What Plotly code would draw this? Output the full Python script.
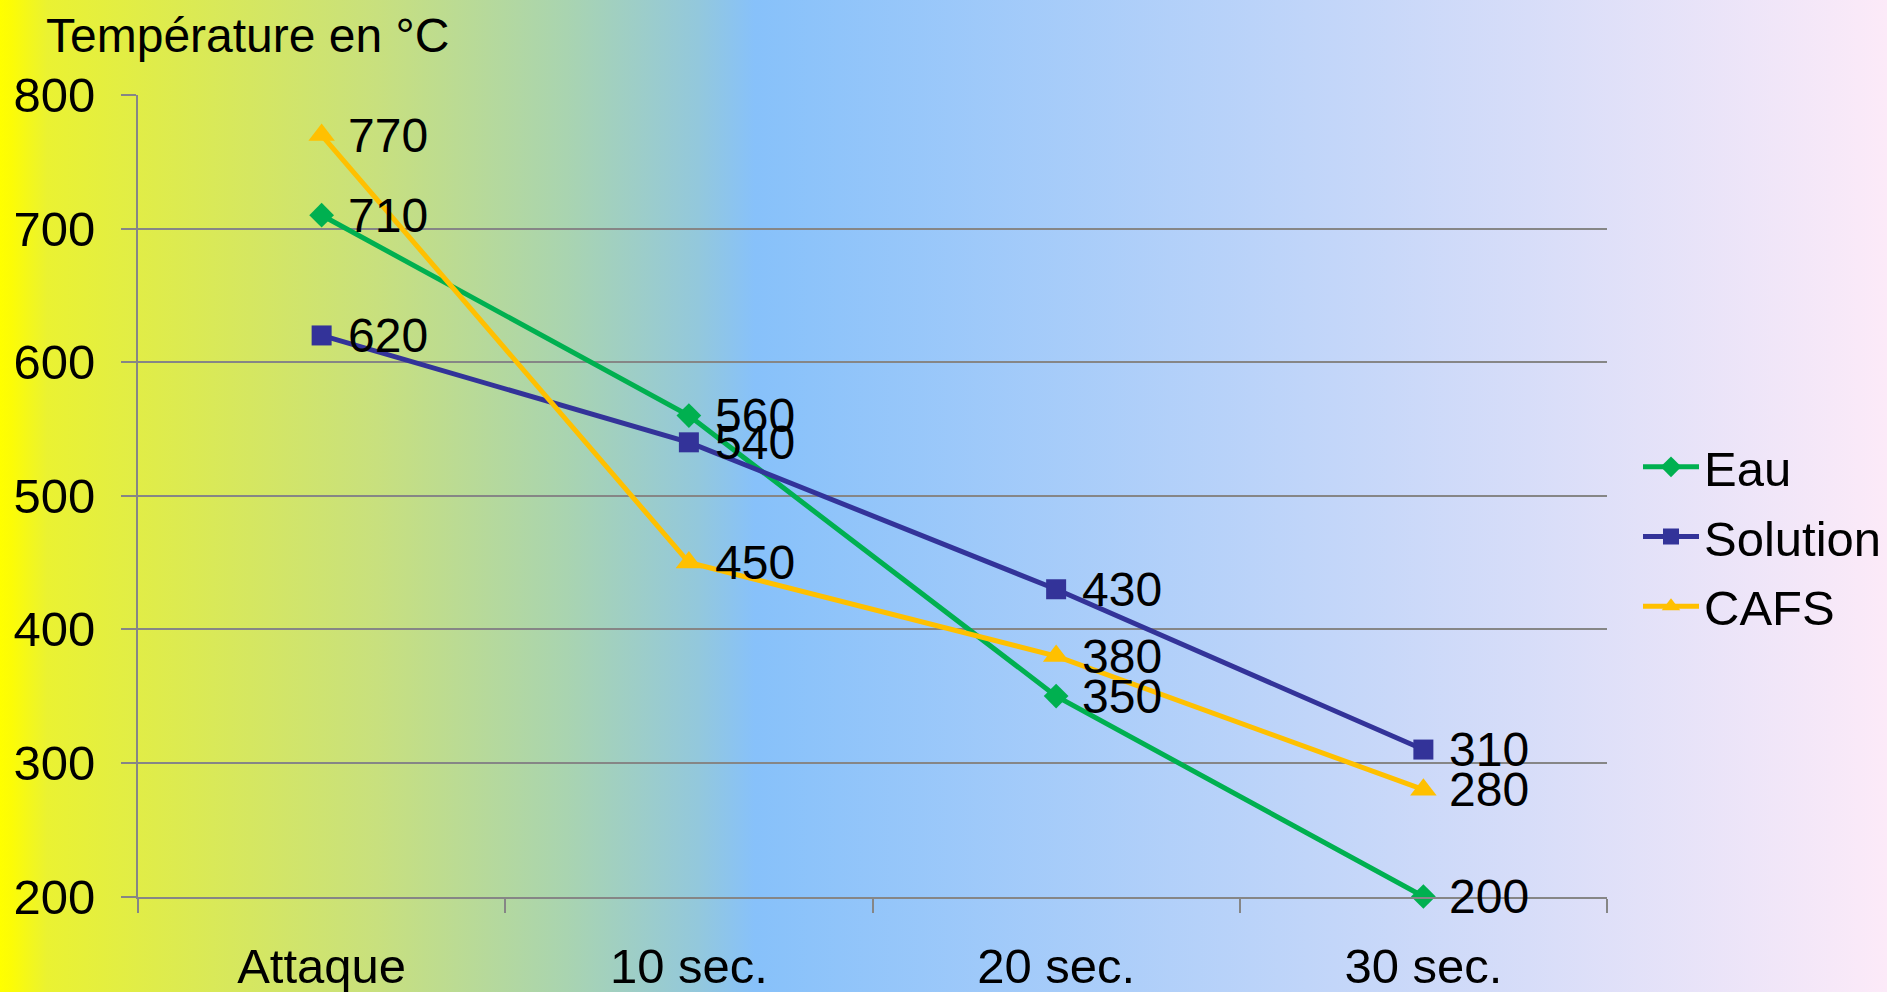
import base64
import plotly.graph_objects as go

# Temps et températures relevées (°C)
categories = ["Attaque", "10 sec.", "20 sec.", "30 sec."]
eau = [710, 560, 350, 200]
solution = [620, 540, 430, 310]
cafs = [770, 450, 380, 280]
y_ticks = [200, 300, 400, 500, 600, 700, 800]

W, H = 1887, 992
FONT = "Liberation Sans, Arial, sans-serif"
GRID = "#868686"

# Horizontal background gradient (yellow -> sky blue -> light pink)
stops = [
    (0.000, "#FFFF00"),
    (0.006, "#FCFC06"),
    (0.025, "#EAF232"),
    (0.200, "#C8E07E"),
    (0.300, "#A9D4B0"),
    (0.370, "#93C8DC"),
    (0.400, "#87C1FA"),
    (1.000, "#FCEAF8"),
]
stop_xml = "".join(
    f"<stop offset='{o}' stop-color='{c}'/>" for o, c in stops
)
svg = (
    f"<svg xmlns='http://www.w3.org/2000/svg' width='{W}' height='{H}' "
    f"viewBox='0 0 {W} {H}' preserveAspectRatio='none'>"
    f"<defs><linearGradient id='g' x1='0' y1='0' x2='1' y2='0'>{stop_xml}"
    f"</linearGradient></defs><rect x='0' y='0' width='{W}' height='{H}' fill='url(#g)'/></svg>"
)
bg_src = "data:image/svg+xml;base64," + base64.b64encode(svg.encode()).decode()

series = [
    ("Eau", eau, "#00B050", "diamond", 19),
    ("Solution", solution, "#333399", "square", 20),
    ("CAFS", cafs, "#FFC000", "triangle-up", 23),
]

fig = go.Figure()
value_labels = []
for i, (name, vals, color, symbol, msize) in enumerate(series):
    fig.add_trace(
        go.Scatter(
            x=categories,
            y=vals,
            name=name,
            legendgroup=f"g{i}",
            mode="lines+markers",
            line=dict(color=color, width=5),
            marker=dict(color=color, symbol=symbol, size=msize),
            cliponaxis=False,
        )
    )
    # value label to the right of each point
    for cat, v in zip(categories, vals):
        value_labels.append(
            dict(
                x=cat,
                y=v,
                xref="x",
                yref="y",
                text=str(v),
                showarrow=False,
                xanchor="left",
                yanchor="middle",
                xshift=24,
                yshift=0,
                font=dict(family=FONT, size=48, color="#000000"),
            )
        )

x0, x1 = 138 / W, 1607 / W
y_bot, y_top = (H - 896.5) / H, (H - 95) / H

fig.update_layout(
    width=W,
    height=H,
    margin=dict(l=0, r=0, t=0, b=0, autoexpand=False),
    paper_bgcolor="#C8E07E",
    plot_bgcolor="rgba(0,0,0,0)",
    font=dict(family=FONT, size=48, color="#000000"),
    images=[
        dict(
            source=bg_src,
            xref="paper",
            yref="paper",
            x=0,
            y=1,
            sizex=1,
            sizey=1,
            xanchor="left",
            yanchor="top",
            sizing="stretch",
            layer="below",
        )
    ],
    xaxis=dict(
        domain=[x0, x1],
        type="category",
        categoryorder="array",
        categoryarray=categories,
        range=[-0.5, 3.5],
        tickson="boundaries",
        ticks="outside",
        ticklen=14,
        tickwidth=2,
        tickcolor=GRID,
        showline=True,
        linecolor=GRID,
        linewidth=2,
        showgrid=False,
        zeroline=False,
        automargin=False,
        tickfont=dict(family=FONT, size=49),
        ticklabelstandoff=26,
    ),
    yaxis=dict(
        domain=[y_bot, y_top],
        range=[200, 800],
        tickvals=y_ticks,
        ticktext=[str(v) for v in y_ticks],
        ticks="outside",
        ticklen=15,
        tickwidth=2,
        tickcolor=GRID,
        showline=True,
        linecolor=GRID,
        linewidth=2,
        showgrid=True,
        gridcolor=GRID,
        gridwidth=2,
        zeroline=False,
        automargin=False,
        tickfont=dict(family=FONT, size=49),
        ticklabelstandoff=16,
    ),
    legend=dict(
        x=1638 / W,
        y=(H - 537) / H,
        xanchor="left",
        yanchor="middle",
        bgcolor="rgba(0,0,0,0)",
        font=dict(family=FONT, size=49),
        itemwidth=56,
        tracegroupgap=3,
        traceorder="grouped",
    ),
    annotations=[
        dict(
            text="Température en °C",
            xref="paper",
            yref="paper",
            x=44 / W,
            y=(H - 36) / H,
            xanchor="left",
            yanchor="middle",
            showarrow=False,
            font=dict(family=FONT, size=48),
        )
    ]
    + value_labels,
)

fig.write_html("out.html")
